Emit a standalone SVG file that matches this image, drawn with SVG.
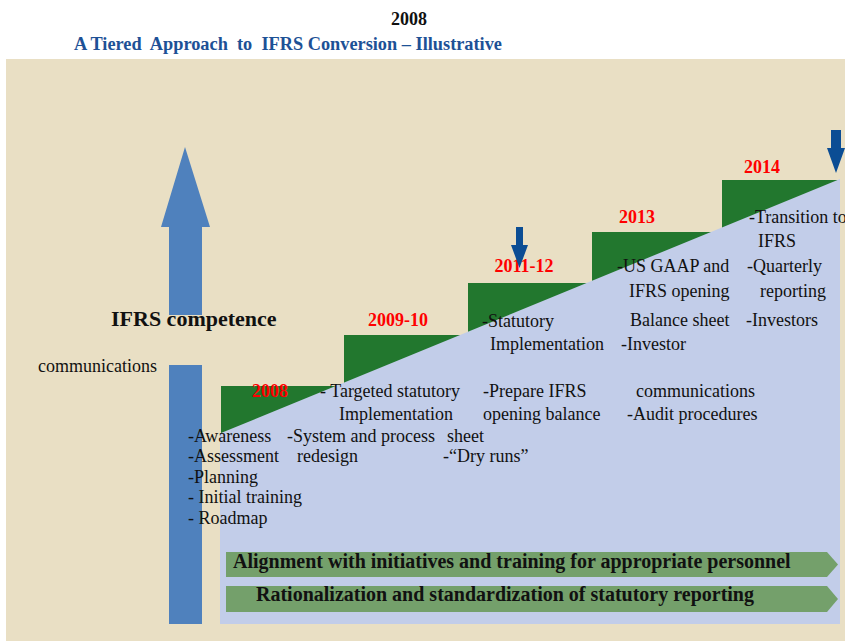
<svg xmlns="http://www.w3.org/2000/svg" width="845" height="641" viewBox="0 0 845 641">
<style>
text{font-family:"Liberation Serif","Times New Roman",serif;fill:#111}
.body{font-size:18px}
.yr{font-size:18px;font-weight:bold;fill:#ff0000}
.bar{font-size:20px;font-weight:bold}
.chev{fill:#74a06b}
.darr{fill:#0b4d94}
</style>
<rect x="0" y="0" width="845" height="641" fill="#ffffff"/>
<g id="title">
<text x="409" y="25" text-anchor="middle" style="font-size:18px;font-weight:bold">2008</text>
<text x="74" y="50" textLength="428" lengthAdjust="spacingAndGlyphs" style="font-size:18px;font-weight:bold;fill:#1d5196;white-space:pre" xml:space="preserve">A Tiered  Approach  to  IFRS Conversion – Illustrative</text>
</g>
<rect id="background" x="6" y="59" width="839" height="582" fill="#e9dfc4"/>
<g id="competence-arrow">
<polygon points="185,147 210,227 202,227 202,315 169,315 169,227 161,227" fill="#4f81bd"/>
<rect x="169" y="365" width="33" height="259" fill="#4f81bd"/>
</g>
<g id="staircase">
<polygon points="221,386 344,386 344,335 468,335 468,283 592,283 592,232 722,232 722,180 840,180 840,624 221,624" fill="#22772e"/>
<polygon points="221,433 840,179 840,624 220,624 220,433" fill="#c2cde9"/>
</g>
<g id="competence-label">
<text x="111" y="326" style="font-size:22px;font-weight:bold">IFRS competence</text>
<text x="38" y="372" class="body">communications</text>
</g>
<g id="step-2008">
<text x="270" y="397" class="yr" text-anchor="middle">2008</text>
<text x="188" y="442" class="body">-Awareness</text>
<text x="188" y="462" class="body">-Assessment</text>
<text x="188" y="483" class="body">-Planning</text>
<text x="188" y="503" class="body">- Initial training</text>
<text x="188" y="524" class="body">- Roadmap</text>
</g>
<g id="step-2009-10">
<text x="398" y="326" class="yr" text-anchor="middle">2009-10</text>
<text x="320" y="397" class="body">- Targeted statutory</text>
<text x="339" y="420" class="body">Implementation</text>
<text x="287" y="442" class="body">-System and process</text>
<text x="297" y="462" class="body">redesign</text>
</g>
<g id="step-2011-12">
<text x="524" y="272" class="yr" text-anchor="middle">2011-12</text>
<text x="482" y="327" class="body">-Statutory</text>
<text x="490" y="350" class="body">Implementation</text>
<text x="483" y="397" class="body">-Prepare IFRS</text>
<text x="483" y="420" class="body">opening balance</text>
<text x="447" y="442" class="body">sheet</text>
<text x="443" y="462" class="body">-“Dry runs”</text>
</g>
<g id="step-2013">
<text x="637" y="223" class="yr" text-anchor="middle">2013</text>
<text x="617" y="272" class="body">-US GAAP and</text>
<text x="629" y="297" class="body">IFRS opening</text>
<text x="630" y="326" class="body">Balance sheet</text>
<text x="621" y="350" class="body">-Investor</text>
<text x="636" y="397" class="body">communications</text>
<text x="627" y="420" class="body">-Audit procedures</text>
</g>
<g id="step-2014">
<text x="762" y="173" class="yr" text-anchor="middle">2014</text>
<text x="749" y="223" class="body">-Transition to</text>
<text x="758" y="247" class="body">IFRS</text>
<text x="747" y="272" class="body">-Quarterly</text>
<text x="760" y="297" class="body">reporting</text>
<text x="746" y="326" class="body">-Investors</text>
</g>
<g id="bar-alignment">
<polygon class="chev" points="226,552 827,552 838,564.5 827,577 226,577"/>
<text x="233" y="568" class="bar">Alignment with initiatives and training for appropriate personnel</text>
</g>
<g id="bar-rationalization">
<polygon class="chev" points="226,586 827,586 838,599 827,612 226,612"/>
<text x="256" y="601" class="bar">Rationalization and standardization of statutory reporting</text>
</g>
<g id="connectors">
<polygon class="darr" points="516,227 523,227 523,245 528,245 519.5,268 511,245 516,245"/>
<polygon class="darr" points="831,130 841,130 841,148 845,148 836,173 827,148 831,148"/>
</g>
</svg>
